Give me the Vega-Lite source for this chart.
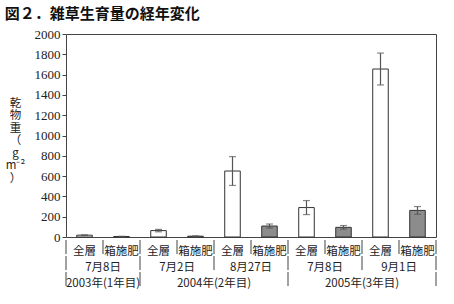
{
  "$schema": "https://vega.github.io/schema/vega-lite/v6.json",
  "padding": {"left": 4, "top": 6, "right": 5, "bottom": 5},
  "title": {"text": "図２．雑草生育量の経年変化", "anchor": "start", "frame": "bounds", "font": "Noto Sans CJK JP", "fontSize": 15, "fontWeight": "bold", "color": "#111", "offset": 6},
  "config": {"font": "Noto Sans CJK JP", "view": {"stroke": "#444"}},
  "datasets": {
    "bars": [
      {"key": "k01", "year": "2003年(1年目)", "date": "7月8日", "treat": "全層", "value": 18, "err": 3},
      {"key": "k02", "year": "2003年(1年目)", "date": "7月8日", "treat": "箱施肥", "value": 5, "err": 2},
      {"key": "k03", "year": "2004年(2年目)", "date": "7月2日", "treat": "全層", "value": 63, "err": 12},
      {"key": "k04", "year": "2004年(2年目)", "date": "7月2日", "treat": "箱施肥", "value": 8, "err": 3},
      {"key": "k05", "year": "2004年(2年目)", "date": "8月27日", "treat": "全層", "value": 650, "err": 142},
      {"key": "k06", "year": "2004年(2年目)", "date": "8月27日", "treat": "箱施肥", "value": 108, "err": 20},
      {"key": "k07", "year": "2005年(3年目)", "date": "7月8日", "treat": "全層", "value": 290, "err": 69},
      {"key": "k08", "year": "2005年(3年目)", "date": "7月8日", "treat": "箱施肥", "value": 95, "err": 18},
      {"key": "k09", "year": "2005年(3年目)", "date": "9月1日", "treat": "全層", "value": 1655, "err": 157},
      {"key": "k10", "year": "2005年(3年目)", "date": "9月1日", "treat": "箱施肥", "value": 262, "err": 38}
    ],
    "spans": [
      {"level": "月日", "at": "k02", "label": "7月8日"},
      {"level": "月日", "at": "k04", "label": "7月2日"},
      {"level": "月日", "at": "k06", "label": "8月27日"},
      {"level": "月日", "at": "k08", "label": "7月8日"},
      {"level": "月日", "at": "k10", "label": "9月1日"},
      {"level": "年", "at": "k02", "label": "2003年(1年目)"},
      {"level": "年", "at": "k05", "label": "2004年(2年目)"},
      {"level": "年", "at": "k09", "label": "2005年(3年目)"}
    ],
    "seps": [
      {"level": "処理", "at": "k01"}, {"level": "処理", "at": "k02"}, {"level": "処理", "at": "k03"},
      {"level": "処理", "at": "k04"}, {"level": "処理", "at": "k05"}, {"level": "処理", "at": "k06"},
      {"level": "処理", "at": "k07"}, {"level": "処理", "at": "k08"}, {"level": "処理", "at": "k09"},
      {"level": "処理", "at": "k10"},
      {"level": "月日", "at": "k01"}, {"level": "月日", "at": "k03"}, {"level": "月日", "at": "k05"},
      {"level": "月日", "at": "k07"}, {"level": "月日", "at": "k09"},
      {"level": "年", "at": "k01"}, {"level": "年", "at": "k03"}, {"level": "年", "at": "k07"}
    ],
    "levels": [{"level": "処理"}, {"level": "月日"}, {"level": "年"}]
  },
  "bounds": "flush",
  "spacing": 2,
  "vconcat": [
    {
      "width": 370,
      "height": 203,
      "data": {"name": "bars"},
      "encoding": {
        "x": {"field": "key", "type": "nominal", "scale": {"domain": ["k01","k02","k03","k04","k05","k06","k07","k08","k09","k10"], "paddingInner": 0, "paddingOuter": 0}, "axis": null},
        "y": {"field": "value", "type": "quantitative", "scale": {"domain": [0, 2000], "nice": false},
          "title": ["乾", "物", "重", "（", "g", "", "m⁻²", "）"],
          "axis": {"values": [0,200,400,600,800,1000,1200,1400,1600,1800,2000], "format": "d", "labelOverlap": false, "grid": false, "domain": false,
            "ticks": true, "tickSize": 4, "tickColor": "#444", "labelFont": "Liberation Serif", "labelFontSize": 13,
            "labelColor": "#222", "labelPadding": 2,
            "titleAngle": 0, "titleAlign": "center", "titleBaseline": "middle", "titleX": -51, "titleY": 69,
            "titleFont": "Noto Sans CJK JP", "titleFontSize": 11.5, "titleFontWeight": "normal", "titleColor": "#222",
            "titleLineHeight": 12.5}}
      },
      "layer": [
        {
          "mark": {"type": "bar", "width": {"band": 0.42}, "stroke": "#333", "strokeWidth": 1},
          "encoding": {
            "fill": {"field": "treat", "type": "nominal", "scale": {"domain": ["全層", "箱施肥"], "range": ["#ffffff", "#8c8c8c"]}, "legend": null}
          }
        },
        {
          "mark": {"type": "errorbar", "ticks": {"size": 7}, "color": "#555", "thickness": 1.2},
          "encoding": {
            "yError": {"field": "err"}
          }
        }
      ]
    },
    {
      "width": 370,
      "height": 48,
      "view": {"stroke": null},
      "encoding": {
        "x": {"type": "nominal", "scale": {"domain": ["k01","k02","k03","k04","k05","k06","k07","k08","k09","k10"], "paddingInner": 0, "paddingOuter": 0}, "axis": null},
        "y": {"type": "nominal", "scale": {"domain": ["処理", "月日", "年"], "paddingInner": 0, "paddingOuter": 0}, "axis": null}
      },
      "layer": [
        {
          "data": {"name": "bars"},
          "mark": {"type": "text", "fontSize": 11.5, "color": "#222", "font": "Noto Sans CJK JP", "dy": 5},
          "encoding": {
            "x": {"field": "key", "type": "nominal", "bandPosition": 0.5},
            "y": {"datum": "処理", "type": "nominal"},
            "text": {"field": "treat"}
          }
        },
        {
          "data": {"name": "spans"},
          "mark": {"type": "text", "fontSize": 11.5, "color": "#222", "font": "Noto Sans CJK JP", "dy": 5},
          "encoding": {
            "x": {"field": "at", "type": "nominal", "bandPosition": 0},
            "y": {"field": "level", "type": "nominal"},
            "text": {"field": "label"}
          }
        },
        {
          "data": {"name": "seps"},
          "mark": {"type": "tick", "orient": "vertical", "size": 14, "thickness": 1, "color": "#444", "opacity": 1},
          "encoding": {
            "x": {"field": "at", "type": "nominal", "bandPosition": 0},
            "y": {"field": "level", "type": "nominal"}
          }
        },
        {
          "data": {"name": "levels"},
          "mark": {"type": "tick", "orient": "vertical", "size": 14, "thickness": 1, "color": "#444", "opacity": 1},
          "encoding": {
            "x": {"datum": "k10", "type": "nominal", "bandPosition": 1},
            "y": {"field": "level", "type": "nominal"}
          }
        }
      ]
    }
  ]
}
